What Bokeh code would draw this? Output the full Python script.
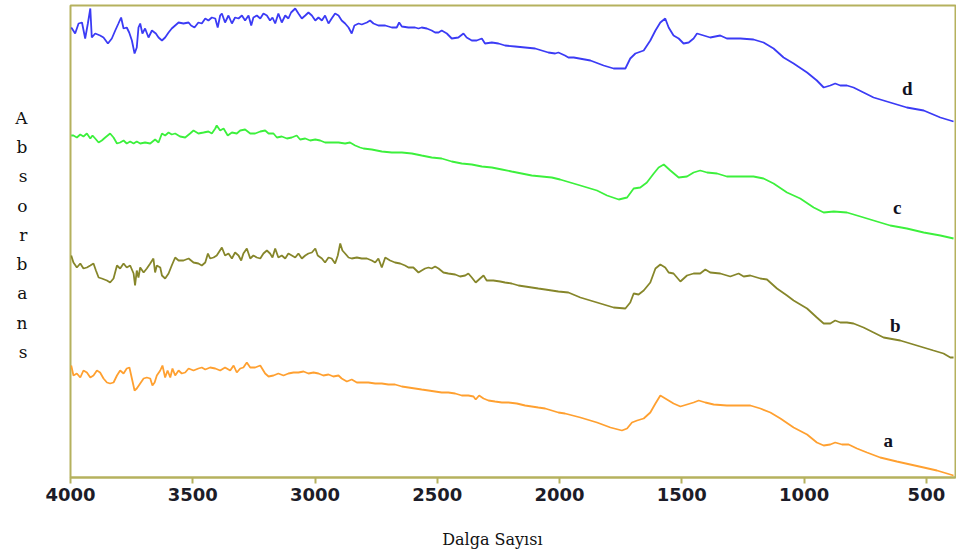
from bokeh.plotting import figure
from bokeh.models import Range1d, FixedTicker, Label, LinearAxis
from bokeh.embed import file_html
from bokeh.resources import INLINE

# ---- data: wavenumber (cm-1), absorbance (arbitrary, stacked) ----
spectrum_d = [(3997,4.50),(3994,4.49),(3981,4.44),(3967,4.54),(3953,4.55),(3940,4.39),(3929,4.54),(3919,4.69),(3913,4.40),
 (3899,4.44),(3879,4.42),(3865,4.40),(3847,4.34),(3831,4.39),(3817,4.47),(3804,4.54),(3793,4.60),(3783,4.49),(3770,4.50),
 (3760,4.45),(3749,4.37),(3738,4.24),(3729,4.30),(3722,4.50),(3715,4.54),(3706,4.44),(3695,4.49),(3681,4.40),(3667,4.47),
 (3651,4.44),(3640,4.40),(3626,4.37),(3613,4.40),(3599,4.45),(3586,4.49),(3572,4.52),(3558,4.55),(3538,4.54),(3517,4.55),
 (3507,4.52),(3493,4.50),(3477,4.55),(3463,4.54),(3449,4.59),(3436,4.57),(3422,4.60),(3408,4.59),(3398,4.50),(3388,4.62),
 (3381,4.64),(3368,4.55),(3354,4.62),(3340,4.54),(3327,4.60),(3313,4.59),(3299,4.62),(3286,4.57),(3272,4.62),(3261,4.52),
 (3252,4.60),(3238,4.62),(3224,4.59),(3211,4.64),(3197,4.62),(3184,4.57),(3174,4.60),(3163,4.54),(3150,4.64),(3136,4.55),
 (3122,4.62),(3109,4.59),(3098,4.65),(3081,4.69),(3068,4.64),(3054,4.59),(3040,4.62),(3027,4.65),(3013,4.62),(2999,4.57),
 (2986,4.60),(2972,4.57),(2959,4.62),(2945,4.54),(2932,4.59),(2918,4.64),(2904,4.62),(2891,4.57),(2877,4.54),(2863,4.50),
 (2850,4.44),(2839,4.52),(2822,4.54),(2809,4.53),(2788,4.55),(2775,4.57),(2761,4.54),(2741,4.52),(2713,4.52),(2686,4.50),
 (2666,4.50),(2656,4.55),(2645,4.51),(2618,4.50),(2591,4.50),(2577,4.49),(2564,4.50),(2543,4.49),(2523,4.47),(2509,4.45),
 (2495,4.45),(2482,4.47),(2461,4.44),(2441,4.39),(2414,4.40),(2393,4.44),(2380,4.40),(2359,4.37),(2339,4.37),(2318,4.39),
 (2305,4.34),(2277,4.35),(2250,4.34),(2223,4.32),(2182,4.31),(2141,4.30),(2100,4.29),(2073,4.27),(2046,4.25),(2018,4.24),
 (2005,4.25),(1978,4.22),(1964,4.20),(1942,4.20),(1874,4.17),(1820,4.12),(1779,4.09),(1731,4.09),(1711,4.19),(1690,4.24),
 (1656,4.27),(1629,4.37),(1608,4.47),(1588,4.55),(1568,4.59),(1554,4.50),(1534,4.42),(1513,4.39),(1493,4.34),(1472,4.35),
 (1452,4.39),(1438,4.44),(1411,4.42),(1384,4.40),(1343,4.42),(1316,4.39),(1261,4.39),(1207,4.38),(1166,4.35),(1125,4.29),
 (1084,4.20),(1043,4.14),(988,4.05),(948,3.97),(920,3.90),(893,3.92),(873,3.94),(852,3.92),(825,3.92),(798,3.90),
 (757,3.85),(716,3.80),(648,3.75),(580,3.70),(511,3.67),(443,3.60),(389,3.56)]

spectrum_c = [(3997,3.42),(3988,3.42),(3974,3.40),(3960,3.43),(3947,3.41),(3933,3.44),(3919,3.39),(3910,3.42),(3899,3.39),
 (3885,3.35),(3872,3.37),(3858,3.40),(3838,3.44),(3824,3.40),(3810,3.34),(3797,3.35),(3783,3.37),(3770,3.34),(3756,3.36),
 (3742,3.34),(3729,3.36),(3715,3.34),(3695,3.35),(3674,3.34),(3654,3.38),(3640,3.35),(3626,3.44),(3613,3.42),(3599,3.45),
 (3586,3.43),(3572,3.44),(3552,3.41),(3531,3.40),(3511,3.44),(3497,3.47),(3477,3.44),(3456,3.45),(3436,3.46),(3422,3.44),
 (3408,3.49),(3402,3.52),(3388,3.47),(3374,3.49),(3357,3.42),(3340,3.45),(3320,3.44),(3306,3.47),(3286,3.48),(3265,3.44),
 (3245,3.44),(3224,3.46),(3204,3.47),(3190,3.44),(3170,3.44),(3156,3.40),(3136,3.41),(3115,3.39),(3095,3.40),(3075,3.42),
 (3061,3.38),(3040,3.39),(3020,3.37),(2999,3.38),(2979,3.37),(2959,3.35),(2932,3.35),(2904,3.35),(2877,3.34),(2857,3.35),
 (2836,3.32),(2816,3.30),(2802,3.29),(2768,3.28),(2727,3.26),(2686,3.25),(2645,3.25),(2604,3.24),(2564,3.22),(2523,3.20),
 (2482,3.19),(2441,3.16),(2400,3.14),(2359,3.13),(2318,3.11),(2277,3.10),(2236,3.08),(2196,3.06),(2155,3.04),(2114,3.02),
 (2073,3.01),(2032,3.00),(1998,2.98),(1915,2.92),(1847,2.87),(1806,2.82),(1758,2.78),(1724,2.80),(1697,2.89),(1670,2.90),
 (1643,2.95),(1615,3.04),(1595,3.10),(1574,3.13),(1547,3.07),(1513,3.00),(1479,3.01),(1452,3.05),(1425,3.07),(1397,3.05),
 (1356,3.04),(1316,3.01),(1261,3.01),(1207,3.01),(1166,2.99),(1125,2.94),(1070,2.85),(1016,2.79),(961,2.70),(920,2.65),
 (879,2.66),(825,2.65),(770,2.61),(716,2.57),(648,2.52),(580,2.49),(511,2.45),(443,2.42),(389,2.39)]

spectrum_b = [(3997,2.22),(3988,2.15),(3974,2.10),(3960,2.14),(3947,2.09),(3933,2.10),(3919,2.12),(3906,2.14),(3896,2.07),
 (3885,2.00),(3872,1.99),(3851,1.97),(3838,1.95),(3824,1.99),(3810,2.12),(3797,2.09),(3783,2.14),(3770,2.10),(3756,2.12),
 (3742,2.04),(3736,1.92),(3729,2.07),(3722,2.00),(3715,2.10),(3701,2.05),(3688,2.09),(3674,2.14),(3661,2.19),(3654,2.05),
 (3647,2.12),(3633,2.10),(3626,2.02),(3613,1.99),(3599,2.04),(3586,2.12),(3572,2.20),(3558,2.17),(3538,2.17),(3517,2.19),
 (3497,2.15),(3477,2.14),(3463,2.12),(3449,2.15),(3438,2.24),(3429,2.19),(3415,2.20),(3402,2.22),(3381,2.30),(3368,2.22),
 (3354,2.24),(3340,2.19),(3327,2.25),(3313,2.22),(3302,2.17),(3293,2.24),(3279,2.29),(3265,2.19),(3252,2.22),(3238,2.20),
 (3224,2.19),(3211,2.24),(3197,2.27),(3184,2.24),(3174,2.20),(3163,2.29),(3150,2.20),(3136,2.22),(3122,2.19),(3109,2.24),
 (3095,2.22),(3081,2.20),(3068,2.24),(3054,2.19),(3040,2.22),(3027,2.24),(3013,2.25),(2999,2.29),(2989,2.22),(2972,2.19),
 (2959,2.15),(2945,2.20),(2932,2.19),(2918,2.14),(2907,2.22),(2897,2.34),(2888,2.27),(2877,2.24),(2863,2.20),(2850,2.19),
 (2829,2.20),(2809,2.19),(2788,2.19),(2768,2.17),(2754,2.15),(2741,2.19),(2727,2.10),(2713,2.20),(2693,2.17),(2673,2.15),
 (2652,2.14),(2632,2.12),(2618,2.10),(2598,2.10),(2577,2.05),(2564,2.07),(2550,2.09),(2536,2.10),(2523,2.09),(2509,2.11),
 (2495,2.09),(2475,2.05),(2455,2.04),(2427,2.03),(2407,2.01),(2386,2.02),(2373,2.04),(2359,2.00),(2343,1.95),(2325,1.99),
 (2311,2.02),(2298,1.97),(2271,1.97),(2243,1.96),(2223,1.95),(2196,1.94),(2168,1.92),(2141,1.91),(2114,1.90),(2087,1.89),
 (2059,1.88),(2032,1.87),(2005,1.86),(1964,1.85),(1915,1.80),(1847,1.75),(1779,1.70),(1731,1.69),(1711,1.75),(1697,1.84),
 (1677,1.83),(1656,1.87),(1629,1.95),(1608,2.09),(1588,2.13),(1568,2.10),(1554,2.05),(1534,2.04),(1506,1.96),(1479,2.02),
 (1452,2.04),(1425,2.04),(1404,2.08),(1384,2.05),(1343,2.04),(1302,2.01),(1268,2.04),(1247,2.01),(1220,2.02),(1179,1.99),
 (1152,1.98),(1111,1.89),(1070,1.82),(1043,1.77),(988,1.69),(948,1.60),(920,1.54),(893,1.54),(873,1.57),(852,1.55),
 (825,1.55),(798,1.54),(757,1.50),(716,1.45),(675,1.40),(607,1.37),(539,1.32),(471,1.27),(430,1.24),(402,1.20),(389,1.20)]

spectrum_a = [(3997,1.12),(3988,1.02),(3974,1.04),(3960,1.00),(3947,1.07),(3933,1.05),(3919,1.00),(3906,1.02),(3892,1.07),
 (3879,1.05),(3865,0.99),(3851,0.95),(3838,0.94),(3824,0.95),(3810,1.02),(3797,1.07),(3783,1.04),(3770,1.09),(3759,1.10),
 (3749,0.99),(3738,0.87),(3729,0.89),(3715,0.94),(3701,0.99),(3688,1.00),(3674,0.99),(3665,0.92),(3656,0.95),(3647,1.02),
 (3633,1.07),(3624,1.12),(3613,1.00),(3603,1.07),(3592,1.00),(3583,1.09),(3572,1.02),(3558,1.07),(3545,1.04),(3531,1.05),
 (3517,1.09),(3497,1.07),(3477,1.09),(3463,1.10),(3449,1.08),(3429,1.10),(3408,1.09),(3388,1.07),(3368,1.10),(3347,1.07),
 (3333,1.12),(3320,1.05),(3306,1.09),(3293,1.10),(3279,1.15),(3265,1.10),(3245,1.10),(3224,1.12),(3204,1.04),(3190,1.01),
 (3170,1.02),(3150,1.04),(3129,1.02),(3109,1.04),(3088,1.05),(3068,1.05),(3047,1.06),(3027,1.04),(3006,1.05),(2986,1.04),
 (2966,1.02),(2945,1.03),(2925,1.01),(2904,1.02),(2891,0.99),(2870,0.96),(2850,0.98),(2829,0.95),(2809,0.95),(2782,0.95),
 (2754,0.94),(2727,0.94),(2700,0.93),(2673,0.93),(2645,0.91),(2618,0.90),(2591,0.89),(2564,0.88),(2536,0.87),(2509,0.86),
 (2482,0.85),(2455,0.85),(2427,0.84),(2400,0.82),(2373,0.82),(2352,0.81),(2343,0.78),(2329,0.82),(2311,0.79),(2291,0.77),
 (2264,0.76),(2236,0.75),(2209,0.75),(2175,0.74),(2141,0.72),(2114,0.71),(2087,0.70),(2059,0.69),(2032,0.67),(2005,0.65),
 (1978,0.64),(1915,0.60),(1847,0.55),(1792,0.50),(1745,0.47),(1724,0.49),(1704,0.55),(1683,0.57),(1656,0.59),(1629,0.65),
 (1608,0.74),(1588,0.82),(1561,0.78),(1534,0.74),(1506,0.71),(1479,0.73),(1452,0.75),(1431,0.77),(1404,0.75),(1370,0.73),
 (1316,0.72),(1261,0.72),(1220,0.72),(1179,0.69),(1138,0.65),(1097,0.59),(1043,0.50),(988,0.43),(948,0.35),(920,0.32),
 (893,0.33),(873,0.35),(845,0.33),(818,0.33),(784,0.29),(743,0.25),(689,0.20),(621,0.16),(566,0.13),(511,0.10),
 (457,0.07),(416,0.04),(389,0.02)]

series_names = ["a", "b", "c", "d"]
series_colors = ["#ffa030", "#86862a", "#3cf03c", "#3b3bf5"]
tick_values = [4000, 3500, 3000, 2500, 2000, 1500, 1000, 500]
x_title = "Dalga Sayısı"
y_title = "Absorbans"

FRAME = "#b5b15e"

p = figure(width=956, height=559, output_backend="svg", toolbar_location=None,
           x_range=Range1d(4000, 381), y_range=Range1d(0, 4.72),
           min_border_left=70, min_border_right=1, min_border_top=5, min_border_bottom=82)
p.grid.visible = False
p.outline_line_color = FRAME
p.outline_line_width = 2
p.background_fill_color = "white"
p.border_fill_color = "white"

ax = p.xaxis[0]
ax.ticker = FixedTicker(ticks=tick_values)
ax.axis_line_color = FRAME
ax.axis_line_width = 2
ax.major_tick_line_color = FRAME
ax.major_tick_line_width = 2
ax.major_tick_out = 6
ax.major_tick_in = 0
ax.minor_tick_line_color = None
ax.major_label_text_font = "DejaVu Sans"
ax.major_label_text_font_style = "bold"
ax.major_label_text_font_size = "18px"
ax.major_label_text_color = "#1c1c28"
ax.major_label_standoff = 4

# x title: drawn as the single label of a bare second axis, so it can sit off-centre
title_x = 2275
tx = LinearAxis(ticker=FixedTicker(ticks=[title_x]),
                major_label_overrides={title_x: x_title},
                axis_line_color=None, major_tick_line_color=None, minor_tick_line_color=None,
                major_tick_out=0, major_tick_in=0, major_label_standoff=26,
                major_label_text_font="DejaVu Serif", major_label_text_font_size="16px",
                major_label_text_color="#111111")
p.add_layout(tx, "below")

# y title as stacked letters, drawn as the left axis' tick labels
letter_pos = [round(3.60 - i * 0.2925, 2) for i in range(len(y_title))]
ay = p.yaxis[0]
ay.ticker = FixedTicker(ticks=letter_pos)
ay.major_label_overrides = {v: ch for v, ch in zip(letter_pos, y_title)}
ay.axis_line_color = None
ay.major_tick_line_color = None
ay.minor_tick_line_color = None
ay.major_tick_out = 0
ay.major_tick_in = 0
ay.major_label_standoff = 43
ay.major_label_text_font = "DejaVu Serif"
ay.major_label_text_font_size = "17px"
ay.major_label_text_color = "#111111"

spectra = [spectrum_a, spectrum_b, spectrum_c, spectrum_d]
for name, color, spec in zip(series_names, series_colors, spectra):
    xs = [w for w, _ in spec]
    ys = [a for _, a in spec]
    p.line(xs, ys, line_color=color, line_width=1.8)

# curve labels
label_pos = {"d": (578, 3.89), "c": (619, 2.70), "b": (627, 1.52), "a": (656, 0.37)}
for name in series_names:
    lx, ly = label_pos[name]
    p.add_layout(Label(x=lx, y=ly, text=name, text_align="center", text_baseline="middle",
                       text_font="Liberation Serif", text_font_style="bold",
                       text_font_size="19px", text_color="#111122"))

open("out.html", "w").write(file_html(p, INLINE))
